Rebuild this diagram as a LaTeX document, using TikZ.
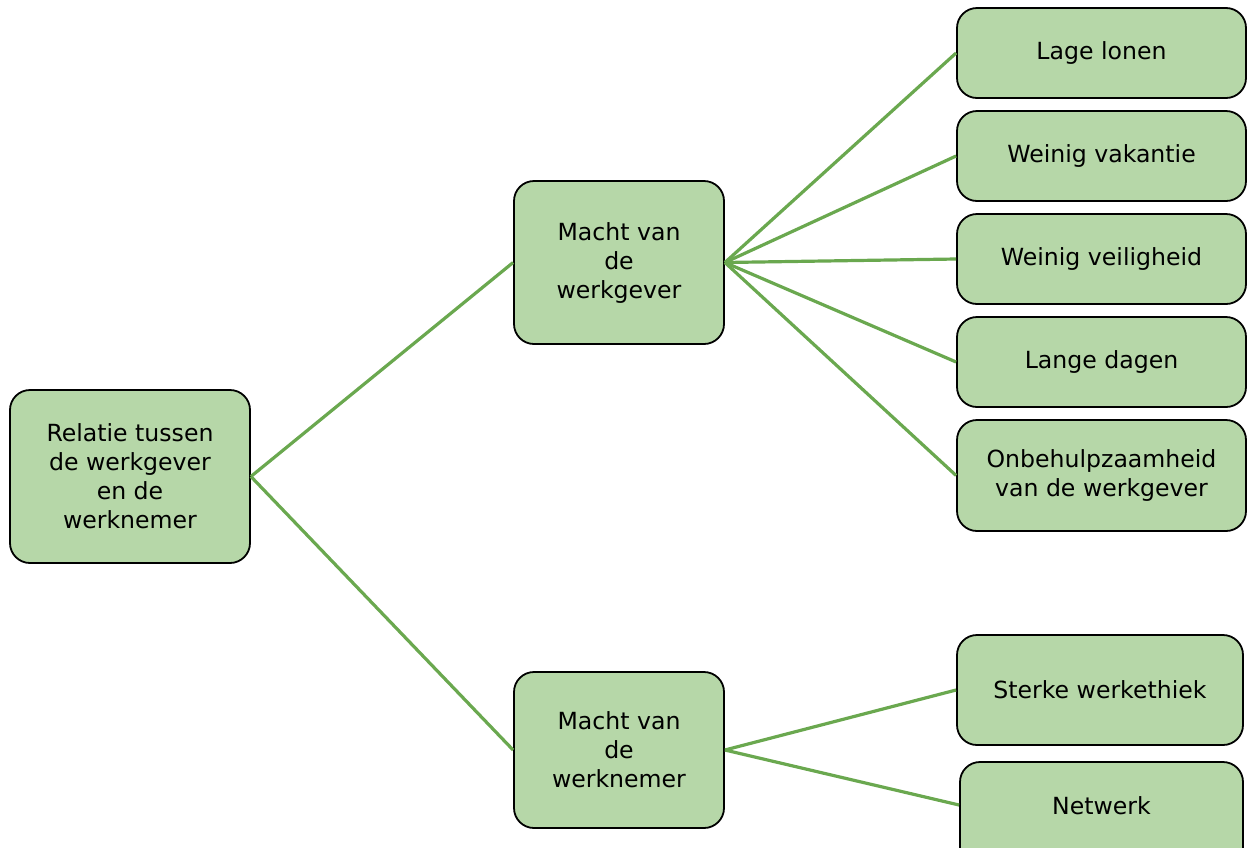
\documentclass[tikz,border=0pt]{standalone}
\usepackage{fontspec}
\setmainfont{DejaVu Sans}
\definecolor{boxfill}{HTML}{B6D7A8}
\definecolor{linkgreen}{HTML}{6AA84F}
\begin{document}
\begin{tikzpicture}[x=1pt,y=-1pt,
  box/.style={draw=black, line width=1.8pt, fill=boxfill, rounded corners=20pt,
    align=center, inner sep=0pt, font=\fontsize{23.6}{29}\selectfont},
  link/.style={draw=linkgreen, line width=3.2pt}]
\useasboundingbox (0,0) rectangle (1248,847);
\clip (0,0) rectangle (1248,847);
\node[box, minimum width=240pt, minimum height=173pt] (root) at (130,476.5) {Relatie tussen\\de werkgever\\en de\\werknemer};
\node[box, minimum width=210pt, minimum height=163pt] (mg) at (619,262.5) {Macht van\\de\\werkgever};
\node[box, minimum width=210pt, minimum height=156pt] (mn) at (619,750) {Macht van\\de\\werknemer};
\node[box, minimum width=289pt, minimum height=90pt] (a) at (1101.5,53) {Lage lonen};
\node[box, minimum width=289pt, minimum height=90pt] (b) at (1101.5,156) {Weinig vakantie};
\node[box, minimum width=289pt, minimum height=90pt] (c) at (1101.5,259) {Weinig veiligheid};
\node[box, minimum width=289pt, minimum height=90pt] (d) at (1101.5,362) {Lange dagen};
\node[box, minimum width=289pt, minimum height=111pt] (e) at (1101.5,475.5) {Onbehulpzaamheid\\van de werkgever};
\node[box, minimum width=286pt, minimum height=110pt] (f) at (1100,690) {Sterke werkethiek};
\node[box, minimum width=283pt, minimum height=110pt] (g) at (1101.5,817) {};
\node[font=\fontsize{23.6}{29}\selectfont] (gt) at (1101.5,806) {Netwerk};
\draw[link] (root.east) -- (mg.west);
\draw[link] (root.east) -- (mn.west);
\draw[link] (mg.east) -- (a.west);
\draw[link] (mg.east) -- (b.west);
\draw[link] (mg.east) -- (c.west);
\draw[link] (mg.east) -- (d.west);
\draw[link] (mg.east) -- (e.west);
\draw[link] (mn.east) -- (f.west);
\draw[link] (mn.east) -- ([yshift=12pt]g.west);
\end{tikzpicture}
\end{document}
